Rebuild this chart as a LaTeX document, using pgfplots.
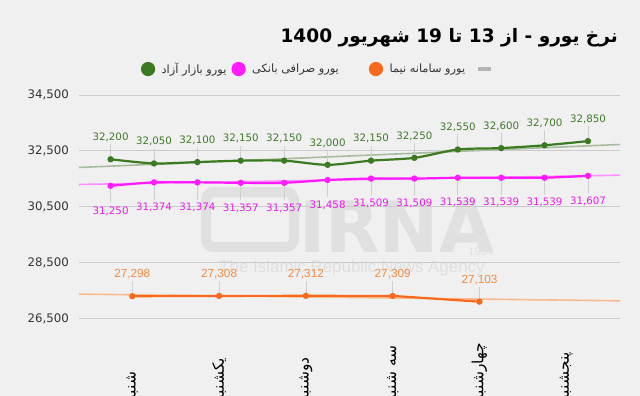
\documentclass[border=0pt]{standalone}
\usepackage{fontspec}
\usepackage{pgfplots}
\pgfplotsset{compat=1.18}
\setmainfont{DejaVu Sans}
\newfontfamily\arabicfont[Script=Arabic]{DejaVu Sans}
\newfontfamily\libsans{Liberation Sans}
\TeXXeTstate=1
\definecolor{bg}{HTML}{F0F0F0}
\definecolor{gridc}{HTML}{CBCBCB}
\definecolor{gline}{HTML}{3B7A20}
\definecolor{glab}{HTML}{3F7A2A}
\definecolor{gtrend}{HTML}{A6BC9E}
\definecolor{mline}{HTML}{FF1AFF}
\definecolor{mlab}{HTML}{E91CE9}
\definecolor{mtrend}{HTML}{FF8FFF}
\definecolor{oline}{HTML}{F56A1C}
\definecolor{olab}{HTML}{F08A42}
\definecolor{otrend}{HTML}{F9B98F}
\definecolor{leader}{HTML}{CFCFCF}
\definecolor{wm}{HTML}{E0E0E0}
\definecolor{legdash}{HTML}{B4B4B4}
\definecolor{txt}{HTML}{333333}
\begin{document}
\begin{tikzpicture}
\useasboundingbox (0,0) rectangle (640bp,-396bp);
\fill[bg] (0,0) rectangle (640bp,-396bp);
\clip (0,0) rectangle (640bp,-396bp);
% watermark
\draw[wm, line width=10bp, rounded corners=8bp] (206bp,-192bp) rectangle (294bp,-247bp);
\node[wm, anchor=base west, font=\fontsize{71}{71}\selectfont\bfseries, inner sep=0pt] at (299bp,-252bp) {IRNA};
\node[wm, anchor=base east, font=\libsans\fontsize{11}{12}\selectfont, inner sep=0pt] at (493bp,-255bp) {1934};
\node[wm, anchor=center, font=\libsans\fontsize{17}{18}\selectfont, inner sep=0pt] at (352bp,-268bp) {The Islamic Republic News Agency};
\begin{axis}[
  at={(79bp,-318.5bp)}, anchor=south west,
  scale only axis, width=541bp, height=223.5bp,
  xmin=-0.614, xmax=5.619, ymin=26500, ymax=34500,
  clip=false,
  axis line style={draw=none},
  tick style={draw=none},
  ymajorgrids, grid style={gridc, line width=1bp},
  ytick={26500,28500,30500,32500,34500},
  scaled y ticks=false,
  /pgf/number format/1000 sep={,},
  /pgf/number format/assume math mode=true,
  yticklabel style={font=\fontsize{11.8}{13}\selectfont, text=txt, anchor=east, inner sep=0pt, xshift=-10bp},
  xtick={0,1,2,3,4,5},
  xticklabels={{\beginR شنبه\endR},{\beginR یکشنبه\endR},{\beginR دوشنبه\endR},{\beginR سه شنبه\endR},{\beginR چهارشنبه\endR},{\beginR پنجشنبه\endR}},
  xticklabel style={yshift=-84bp, rotate=90, anchor=west, inner sep=0pt, font=\arabicfont\fontsize{15.5}{17}\selectfont, text=black},
  legend columns=4,
  legend cell align=left,
  legend style={at={(0.4455,1.1163)}, anchor=center, draw=none, fill=none,
    font=\arabicfont\fontsize{11.4}{13}\selectfont, text=txt,
    /tikz/every odd column/.append style={column sep=4.5bp},
    /tikz/column 2/.append style={column sep=3bp},
    /tikz/column 4/.append style={column sep=28bp},
    /tikz/column 6/.append style={column sep=11bp}},
]
% trend lines
\addplot[gtrend, line width=1.6bp, forget plot] coordinates {(-0.614,31906) (5.619,32729)};
\addplot[mtrend, line width=1.6bp, forget plot] coordinates {(-0.614,31298) (5.619,31631)};
\addplot[otrend, line width=1.6bp, forget plot] coordinates {(-0.614,27373) (5.619,27133)};
% free market
\addplot[gline, line width=2.2bp, smooth, tension=0.45, mark=*, mark size=2bp,
  legend image code/.code={\fill[gline] (0bp,0bp) circle (6bp);},
  nodes near coords,
  every node near coord/.append style={font=\fontsize{10.3}{12}\selectfont, text=glab, anchor=center, yshift=22bp},
  error bars/.cd, y dir=plus, y fixed=537, error mark=none,
  error bar style={leader, line width=0.6bp, solid}]
coordinates {(-0.25,32200) (0.25,32050) (0.75,32100) (1.25,32150) (1.75,32150) (2.25,32000)
 (2.75,32150) (3.25,32250) (3.75,32550) (4.25,32600) (4.75,32700) (5.25,32850)};
\addlegendentry{\beginR یورو بازار آزاد\endR}
% bank exchange
\addplot[mline, line width=2.2bp, smooth, tension=0.45, mark=*, mark size=2bp,
  legend image code/.code={\fill[mline] (0bp,0bp) circle (6bp);},
  nodes near coords,
  every node near coord/.append style={font=\fontsize{10.3}{12}\selectfont, text=mlab, anchor=center, yshift=-25bp},
  error bars/.cd, y dir=minus, y fixed=620, error mark=none,
  error bar style={leader, line width=0.6bp, solid}]
coordinates {(-0.25,31250) (0.25,31374) (0.75,31374) (1.25,31357) (1.75,31357) (2.25,31458)
 (2.75,31509) (3.25,31509) (3.75,31539) (4.25,31539) (4.75,31539) (5.25,31607)};
\addlegendentry{\beginR یورو صرافی بانکی\endR}
% NIMA
\addplot[oline, line width=2.2bp, mark=*, mark size=2bp,
  legend image code/.code={\fill[oline] (0bp,0bp) circle (6bp);},
  nodes near coords,
  every node near coord/.append style={font=\libsans\fontsize{11.8}{13}\selectfont, text=olab, anchor=center, yshift=22bp},
  error bars/.cd, y dir=plus, y fixed=530, error mark=none,
  error bar style={leader, line width=0.6bp, solid}]
coordinates {(0,27298) (1,27308) (2,27312) (3,27309) (4,27103)};
\addlegendentry{\beginR یورو سامانه نیما\endR}
\addlegendimage{legend image code/.code={\fill[legdash] (0bp,-1.5bp) rectangle (12bp,1.5bp);}}
\addlegendentry{}
\end{axis}
\node[anchor=east, font=\arabicfont\bfseries\fontsize{18.6}{22}\selectfont, inner sep=0pt, text=black] at (618bp,-38bp) {\beginR نرخ یورو - از 13 تا 19 شهریور 1400\endR};
\end{tikzpicture}
\end{document}
